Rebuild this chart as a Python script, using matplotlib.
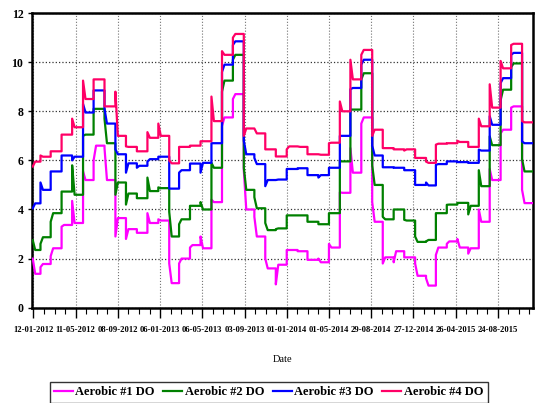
import matplotlib
matplotlib.use('Agg')
import matplotlib.pyplot as plt
import pandas as pd

plt.rcParams['font.family'] = ['Liberation Serif', 'DejaVu Serif']

# monthly steps: value right after the change and the value the month settles to
months = ['2012-01-10'] + [d.strftime('%Y-%m-%d') for d in pd.date_range('2012-02-01', '2015-11-01', freq='MS')]
end_date = '2015-12-01'

do1_start = [2.0, 1.65, 2.1, 3.3, 4.35, 5.55, 6.0, 6.5, 2.9, 2.8, 3.05, 3.85,
             3.6, 1.8, 1.8, 2.45, 2.9, 4.4, 7.4, 8.5, 5.6, 3.7, 2.0, 0.95,
             2.35, 2.3, 1.95, 2.0, 2.6, 4.7, 6.5, 7.5, 4.3, 1.8, 1.85, 2.05,
             1.8, 1.2, 2.15, 2.6, 2.8, 2.2, 4.0, 5.65, 7.1, 8.15, 4.8]
do1_level = [1.38, 1.78, 2.42, 3.37, 3.45, 5.2, 6.6, 5.2, 3.65, 3.2, 3.05, 3.45,
             3.55, 1.0, 2.0, 2.55, 2.42, 4.3, 7.75, 8.7, 4.0, 2.9, 1.6, 1.75,
             2.35, 2.3, 1.95, 1.85, 2.45, 4.68, 5.5, 7.75, 3.5, 2.05, 2.3, 2.05,
             1.3, 0.9, 2.45, 2.7, 2.45, 2.42, 3.5, 5.2, 7.25, 8.2, 4.26]

do2_start = [2.75, 2.6, 3.5, 4.73, 5.8, 7.0, 8.1, 7.7, 4.6, 4.2, 4.46, 5.3,
             4.9, 3.9, 3.4, 4.15, 4.3, 5.9, 8.8, 10.1, 5.7, 4.5, 3.45, 3.2,
             3.76, 3.76, 3.5, 3.4, 3.85, 5.96, 8.07, 9.3, 5.8, 3.7, 4.0, 3.58,
             2.9, 2.7, 3.85, 4.19, 4.27, 3.8, 5.6, 6.98, 8.45, 9.8, 6.05]
do2_level = [2.35, 2.87, 3.85, 4.73, 4.6, 7.05, 8.1, 6.7, 5.1, 4.65, 4.46, 4.75,
             4.87, 2.9, 3.6, 4.15, 4.0, 5.7, 9.25, 10.3, 4.8, 4.05, 3.16, 3.23,
             3.76, 3.76, 3.5, 3.4, 3.85, 5.96, 8.07, 9.55, 5.0, 3.6, 4.0, 3.55,
             2.68, 2.76, 3.85, 4.2, 4.27, 4.15, 4.95, 6.62, 8.88, 9.95, 5.55]

do3_start = [4.05, 5.1, 5.55, 6.2, 6.0, 8.3, 8.85, 8.1, 6.45, 5.5, 5.7, 5.95,
             6.15, 4.85, 5.5, 5.87, 5.5, 6.7, 9.6, 10.7, 6.8, 6.1, 4.95, 5.2,
             5.65, 5.68, 5.4, 5.3, 5.7, 7.0, 8.9, 9.9, 6.6, 5.72, 5.7, 5.6,
             5.0, 5.1, 5.82, 5.96, 5.93, 5.9, 6.44, 7.8, 9.15, 10.3, 6.77]
do3_level = [4.25, 4.8, 5.55, 6.2, 6.15, 7.95, 8.85, 7.5, 6.25, 5.88, 5.78, 6.05,
             6.15, 4.85, 5.6, 5.87, 5.9, 6.7, 9.9, 10.85, 6.25, 5.85, 5.2, 5.22,
             5.65, 5.68, 5.4, 5.4, 5.7, 7.0, 8.95, 10.1, 6.2, 5.72, 5.7, 5.6,
             5.0, 4.98, 5.85, 5.96, 5.93, 5.9, 6.4, 7.45, 9.35, 10.38, 6.7]

do4_start = [5.75, 6.2, 6.37, 7.05, 7.7, 9.25, 9.3, 8.2, 8.8, 6.57, 6.37, 7.15,
             7.5, 6.0, 6.55, 6.6, 6.78, 8.6, 10.45, 11.0, 7.0, 7.3, 6.45, 6.16,
             6.45, 6.57, 6.25, 6.25, 6.7, 8.4, 10.1, 10.3, 7.0, 6.5, 6.45, 6.4,
             6.1, 5.95, 6.64, 6.7, 6.8, 6.55, 7.7, 9.1, 10.05, 10.7, 7.6]
do4_level = [5.95, 6.15, 6.37, 7.05, 7.35, 8.5, 9.3, 8.2, 7.0, 6.55, 6.37, 6.92,
             7.0, 5.88, 6.55, 6.6, 6.78, 7.6, 10.3, 11.15, 7.3, 7.1, 6.45, 6.16,
             6.57, 6.55, 6.25, 6.23, 6.72, 8.0, 9.3, 10.5, 7.25, 6.5, 6.45, 6.45,
             6.1, 5.9, 6.68, 6.7, 6.75, 6.55, 7.39, 8.15, 9.75, 10.75, 7.55]

series_names = ['Aerobic #1 DO', 'Aerobic #2 DO', 'Aerobic #3 DO', 'Aerobic #4 DO']
colors = ['#ff00ff', '#008000', '#0000ff', '#ff0066']

tick_labels = ['12-01-2012', '11-05-2012', '08-09-2012', '06-01-2013', '06-05-2013',
               '03-09-2013', '01-01-2014', '01-05-2014', '29-08-2014', '27-12-2014',
               '26-04-2015', '24-08-2015']


def build_path(starts, levels, settle=7):
    edges = pd.to_datetime(months + [end_date])
    xs = []
    ys = []
    for i in range(len(starts)):
        t0 = edges[i]
        t1 = edges[i + 1]
        xs += [t0, t0 + pd.Timedelta(days=settle), t1]
        ys += [starts[i], levels[i], levels[i]]
    return xs, ys


fig = plt.figure(figsize=(5.37, 4.03), dpi=100)
ax = fig.add_axes([0.059, 0.2365, 0.9335, 0.731])

all_data = [(do1_start, do1_level), (do2_start, do2_level),
            (do3_start, do3_level), (do4_start, do4_level)]
for k in range(4):
    xs, ys = build_path(all_data[k][0], all_data[k][1])
    ax.plot(xs, ys, color=colors[k], linewidth=1.6, label=series_names[k], zorder=3 + k)

# axes
ax.set_xlim(pd.Timestamp('2012-01-07'), pd.Timestamp('2015-12-02'))
ax.set_ylim(0, 12)
ax.set_yticks(range(0, 13, 2))

major = pd.to_datetime(tick_labels, format='%d-%m-%Y')
ax.set_xticks(major)
ax.set_xticklabels(tick_labels, fontsize=6.2, fontweight='bold')
ax.set_xticks(pd.date_range('2012-01-12', '2015-12-01', freq='30D'), minor=True)
ax.tick_params(axis='x', which='major', length=7, width=1, pad=6)
ax.tick_params(axis='x', which='minor', length=4, width=0.8)
ax.tick_params(axis='y', length=3, width=1, pad=3, labelsize=8.5)
for lab in ax.get_yticklabels():
    lab.set_fontweight('bold')

ax.grid(axis='y', linestyle=':', color='0.2', linewidth=0.9)
ax.grid(axis='x', which='major', linestyle=':', color='0.45', linewidth=0.8)
for s in ax.spines.values():
    s.set_linewidth(1.8)

ax.set_xlabel('Date', fontsize=7.5, labelpad=15)

leg = fig.legend(loc='upper center', bbox_to_anchor=(0.5, 1 - 382 / 403), ncol=4,
                 frameon=True, fancybox=False, handlelength=1.5, handletextpad=0.2,
                 columnspacing=0.7, borderpad=0.35, borderaxespad=0,
                 prop={'size': 9, 'weight': 'bold'})
leg.get_frame().set_edgecolor('black')
leg.get_frame().set_linewidth(1.0)

fig.savefig('out.png', dpi=100)
